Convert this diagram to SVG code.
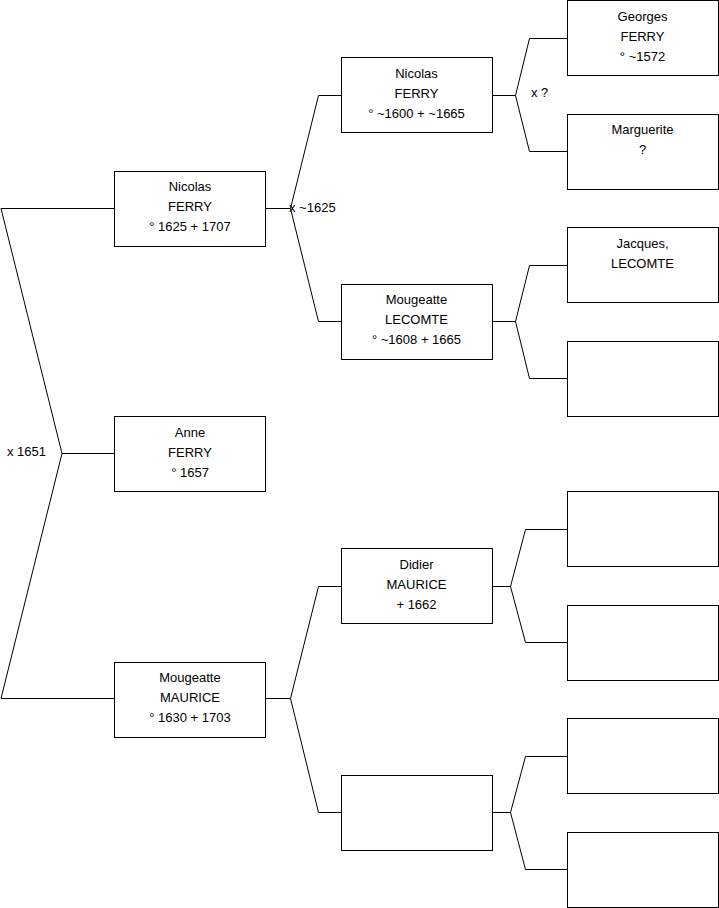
<svg xmlns="http://www.w3.org/2000/svg" width="719" height="908" viewBox="0 0 719 908">
<style>
.box{fill:#fff;stroke:#000;stroke-width:1}
.t{font-family:"Liberation Sans",Arial,sans-serif;font-size:13px;fill:#000;text-anchor:middle}
.l{font-family:"Liberation Sans",Arial,sans-serif;font-size:13px;fill:#000}
.c{fill:none;stroke:#000;stroke-width:1}
</style>
<rect width="719" height="908" fill="#fff"/>
<g id="connectors">
<path class="c" d="M1 208.5H114.5M1 208.5L62 453.5L1 698.5H114.5M62 453.5H114.5"/>
<path class="c" d="M265.5 208.5H290.5L318.5 95.5H341.5M290.5 208.5L318.5 321.5H341.5"/>
<path class="c" d="M265.5 698.5H290.5L318.5 586.5H341.5M290.5 698.5L318.5 812.5H341.5"/>
<path class="c" d="M492.5 95.5H515.5L529.5 38.5H567.5M515.5 95.5L529.5 151.5H567.5"/>
<path class="c" d="M492.5 321.5H515.5L529.5 265.5H567.5M515.5 321.5L529.5 378.5H567.5"/>
<path class="c" d="M492.5 586.5H510.5L525.5 529.5H567.5M510.5 586.5L525.5 642.5H567.5"/>
<path class="c" d="M492.5 812.5H510.5L525.5 756.5H567.5M510.5 812.5L525.5 869.5H567.5"/>
<text class="l" x="7" y="456">x 1651</text>
<text class="l" x="289" y="212">x ~1625</text>
<text class="l" x="531" y="97">x ?</text>
</g>
<g id="n1"><rect class="box" x="114.5" y="171.5" width="151" height="75"/><text class="t" x="190" y="191">Nicolas</text><text class="t" x="190" y="211">FERRY</text><text class="t" x="190" y="231">° 1625 + 1707</text></g>
<g id="n2"><rect class="box" x="114.5" y="416.5" width="151" height="75"/><text class="t" x="190" y="437">Anne</text><text class="t" x="190" y="457">FERRY</text><text class="t" x="190" y="477">° 1657</text></g>
<g id="n3"><rect class="box" x="114.5" y="662.5" width="151" height="75"/><text class="t" x="190" y="682">Mougeatte</text><text class="t" x="190" y="702">MAURICE</text><text class="t" x="190" y="722">° 1630 + 1703</text></g>
<g id="n4"><rect class="box" x="341.5" y="57.5" width="151" height="75"/><text class="t" x="416.5" y="78">Nicolas</text><text class="t" x="416.5" y="98">FERRY</text><text class="t" x="416.5" y="118">° ~1600 + ~1665</text></g>
<g id="n5"><rect class="box" x="341.5" y="284.5" width="151" height="75"/><text class="t" x="416.5" y="304">Mougeatte</text><text class="t" x="416.5" y="324">LECOMTE</text><text class="t" x="416.5" y="344">° ~1608 + 1665</text></g>
<g id="n6"><rect class="box" x="341.5" y="548.5" width="151" height="75"/><text class="t" x="416.5" y="569">Didier</text><text class="t" x="416.5" y="589">MAURICE</text><text class="t" x="416.5" y="609">+ 1662</text></g>
<g id="n7"><rect class="box" x="341.5" y="775.5" width="151" height="75"/></g>
<g id="n8"><rect class="box" x="567.5" y="0.5" width="151" height="75"/><text class="t" x="642.5" y="21">Georges</text><text class="t" x="642.5" y="41">FERRY</text><text class="t" x="642.5" y="61">° ~1572</text></g>
<g id="n9"><rect class="box" x="567.5" y="114.5" width="151" height="75"/><text class="t" x="642.5" y="134">Marguerite</text><text class="t" x="642.5" y="154">?</text></g>
<g id="n10"><rect class="box" x="567.5" y="227.5" width="151" height="75"/><text class="t" x="642.5" y="248">Jacques,</text><text class="t" x="642.5" y="268">LECOMTE</text></g>
<g id="n11"><rect class="box" x="567.5" y="341.5" width="151" height="75"/></g>
<g id="n12"><rect class="box" x="567.5" y="491.5" width="151" height="75"/></g>
<g id="n13"><rect class="box" x="567.5" y="605.5" width="151" height="75"/></g>
<g id="n14"><rect class="box" x="567.5" y="718.5" width="151" height="75"/></g>
<g id="n15"><rect class="box" x="567.5" y="832.5" width="151" height="75"/></g>
</svg>
